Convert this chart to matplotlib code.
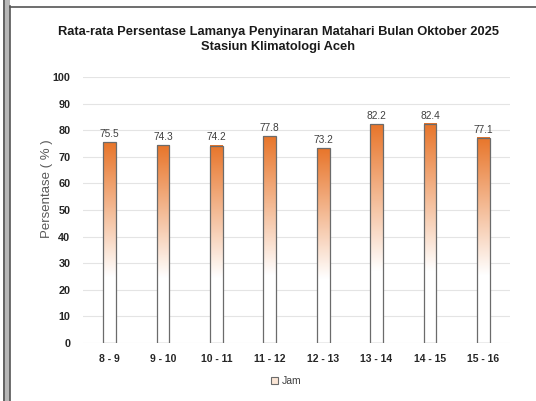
import numpy as np
import matplotlib
matplotlib.use("Agg")
import matplotlib.pyplot as plt
from matplotlib.colors import LinearSegmentedColormap
from matplotlib.patches import Rectangle
from matplotlib.lines import Line2D

plt.rcParams['font.family'] = ['Liberation Sans', 'DejaVu Sans']

categories = ["8 - 9", "9 - 10", "10 - 11", "11 - 12", "12 - 13", "13 - 14", "14 - 15", "15 - 16"]
values = [75.5, 74.3, 74.2, 77.8, 73.2, 82.2, 82.4, 77.1]
y_ticks = [0, 10, 20, 30, 40, 50, 60, 70, 80, 90, 100]

title = "Rata-rata Persentase Lamanya Penyinaran Matahari Bulan Oktober 2025\nStasiun Klimatologi Aceh"
ylabel = "Persentase ( % )"
legend_label = "Jam"

fig = plt.figure(figsize=(5.36, 4.01), dpi=100)
fig.patch.set_facecolor("white")

# page frame: double rule on the left, single rule on top
fig.add_artist(Rectangle((3 / 536, 0), 7 / 536, 1, transform=fig.transFigure,
                         facecolor="#b8b8b8", edgecolor="none"))
fig.add_artist(Line2D([3.5 / 536, 3.5 / 536], [0, 1], transform=fig.transFigure, color="#555555", lw=1.2))
fig.add_artist(Line2D([9.5 / 536, 9.5 / 536], [0, 1 - 6 / 401], transform=fig.transFigure, color="#555555", lw=1.2))
fig.add_artist(Line2D([9.5 / 536, 1], [1 - 6.5 / 401, 1 - 6.5 / 401], transform=fig.transFigure, color="#555555", lw=1.2))

ax = fig.add_axes([83 / 536, 58 / 401, 427 / 536, 266 / 401])

x = np.arange(len(categories))
width = 0.24
cmap = LinearSegmentedColormap.from_list("sun", [(0.0, "#ffffff"), (0.33, "#ffffff"), (1.0, "#e8752a")])
grad = np.linspace(0, 1, 256).reshape(-1, 1)

for xi, v in zip(x, values):
    ax.imshow(grad, extent=[xi - width / 2, xi + width / 2, 0, v], origin="lower",
              cmap=cmap, aspect="auto", zorder=2, interpolation="bilinear")
    ax.add_patch(Rectangle((xi - width / 2, 0), width, v, facecolor="none",
                           edgecolor="#6b6b6b", lw=0.9, zorder=3))
    ax.text(xi, v + 1.2, f"{v:.1f}", ha="center", va="bottom", fontsize=7.3, color="#404040")

ax.set_xlim(-0.5, len(categories) - 0.5)
ax.set_ylim(0, 100)
ax.set_yticks(y_ticks)
ax.set_yticklabels([str(t) for t in y_ticks], fontsize=7.8, fontweight="bold", color="#262626")
ax.set_xticks(x)
ax.set_xticklabels(categories, fontsize=7.5, fontweight="bold", color="#262626")
ax.tick_params(axis="both", length=0)
ax.tick_params(axis="y", pad=9)
ax.tick_params(axis="x", pad=8)
ax.grid(axis="y", color="#e4e4e4", lw=0.8, zorder=0)
ax.set_axisbelow(True)
for s in ax.spines.values():
    s.set_visible(False)

fig.text(47 / 536, 1 - 189 / 401, ylabel, rotation=90, ha="center", va="center",
         fontsize=9.5, color="#595959")

fig.text(0.519, 1 - 39.5 / 401, title, ha="center", va="center", fontsize=9.3, fontweight="bold",
         color="#1a1a1a", linespacing=1.25)

handle = Rectangle((0, 0), 1, 1, facecolor="#fbe6d6", edgecolor="#6b6b6b", lw=0.8)
fig.legend([handle], [legend_label], loc="center", bbox_to_anchor=(286 / 536, 1 - 381 / 401),
           frameon=False, fontsize=7.5, handlelength=0.7, handleheight=0.7, handletextpad=0.3,
           labelcolor="#404040")

fig.savefig("out.png", dpi=100)
